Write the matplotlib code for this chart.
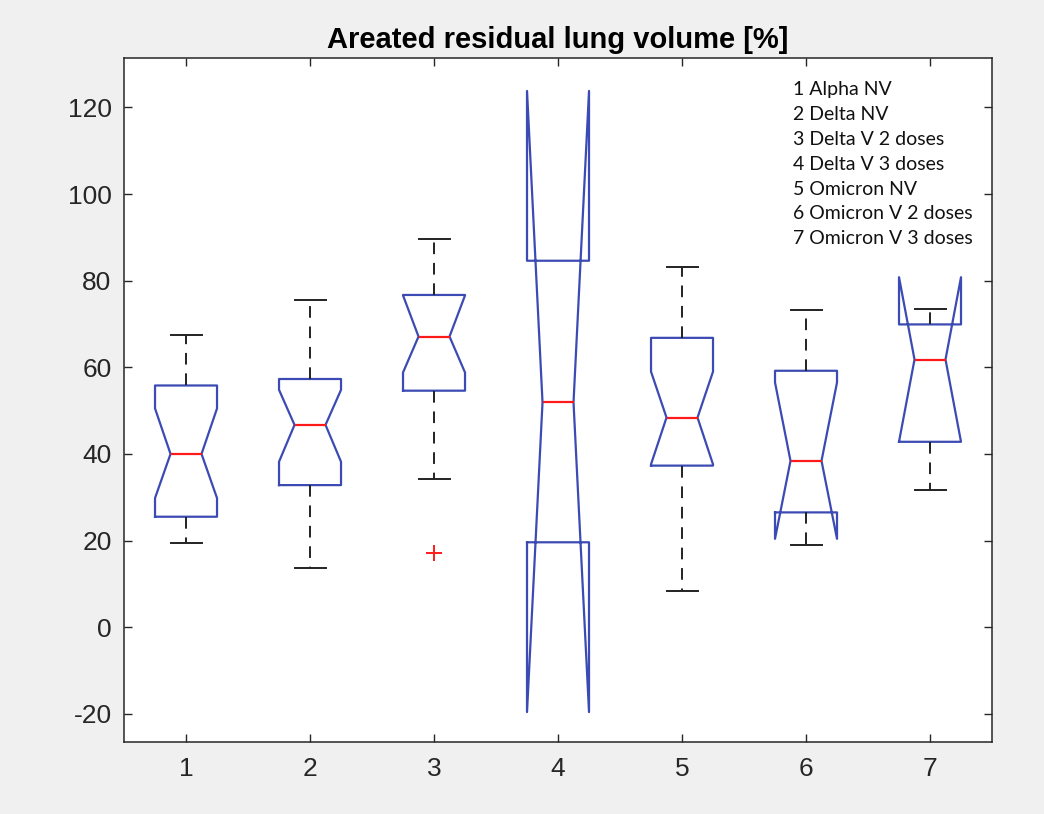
import matplotlib
matplotlib.use('Agg')
from matplotlib import pyplot as plt

plt.rcParams['axes.unicode_minus'] = False

# group labels (x positions 1..7)
groups = ['1', '2', '3', '4', '5', '6', '7']
names = ['1 Alpha NV', '2 Delta NV', '3 Delta V 2 doses', '4 Delta V 3 doses',
         '5 Omicron NV', '6 Omicron V 2 doses', '7 Omicron V 3 doses']

# box statistics
q1 = [25.5, 32.8, 54.6, 19.6, 37.3, 26.5, 42.8]
med = [40.0, 46.7, 67.1, 51.9, 48.4, 38.4, 61.8]
q3 = [55.8, 57.3, 76.7, 84.6, 66.8, 59.2, 69.9]
notch_lo = [29.8, 38.2, 58.8, -19.6, 37.6, 20.4, 42.8]
notch_hi = [50.5, 54.8, 76.6, 123.8, 59.0, 56.5, 80.8]
whisk_lo = [19.5, 13.6, 34.2, 19.6, 8.4, 19.0, 31.7]
whisk_hi = [67.5, 75.5, 89.6, 84.6, 83.2, 73.2, 73.5]
outliers = [[], [], [17.1], [], [], [], []]

blue = '#3c4bb4'

stats = []
for i in range(len(groups)):
    stats.append(dict(label=groups[i], q1=q1[i], med=med[i], q3=q3[i],
                      cilo=notch_lo[i], cihi=notch_hi[i],
                      whislo=whisk_lo[i], whishi=whisk_hi[i],
                      fliers=outliers[i]))

fig = plt.figure(figsize=(10.44, 8.14), dpi=100, facecolor='#f0f0f0')
ax = fig.add_axes([0.1188, 0.0885, 0.8314, 0.8402])
ax.set_facecolor('white')

res = ax.bxp(stats, positions=range(1, 8), widths=0.5, shownotches=True,
             boxprops=dict(color=blue, lw=1.6),
             medianprops=dict(color='#ff1a1a', lw=1.6),
             whiskerprops=dict(color='#222222', lw=1.4, linestyle=(0, (6, 4.5))),
             capprops=dict(color='#222222', lw=1.4),
             flierprops=dict(marker='+', markeredgecolor='#ff1a1a', markersize=12,
                             markeredgewidth=1.4, linestyle='none'))

# group 4 has no visible whiskers/caps
for c in res['caps'][6:8]:
    c.set_visible(False)
for w in res['whiskers'][6:8]:
    w.set_visible(False)

ax.set_xlim(0.5, 7.5)
ax.set_ylim(-26.5, 131.4)
ax.set_yticks([-20, 0, 20, 40, 60, 80, 100, 120])
ax.set_xticks(range(1, 8))
ax.set_xticklabels(groups)

ax.tick_params(direction='in', length=6, width=1, colors='#262626',
               top=True, right=True, labelsize=19)
ax.tick_params(axis='x', pad=11)
ax.tick_params(axis='y', pad=9)
for lab in ax.get_xticklabels() + ax.get_yticklabels():
    lab.set_fontfamily('Liberation Sans')
for s in ax.spines.values():
    s.set_color('#262626')
    s.set_linewidth(1.1)

ax.set_title('Areated residual lung volume [%]', fontsize=21, fontweight='bold',
             family='Liberation Sans', pad=7)

ax.text(0.7707, 0.966, '\n'.join(names), transform=ax.transAxes, va='top', ha='left',
        fontsize=14, family='Lato', linespacing=1.56, color='#111111')

fig.savefig('out.png', dpi=100, facecolor=fig.get_facecolor())
